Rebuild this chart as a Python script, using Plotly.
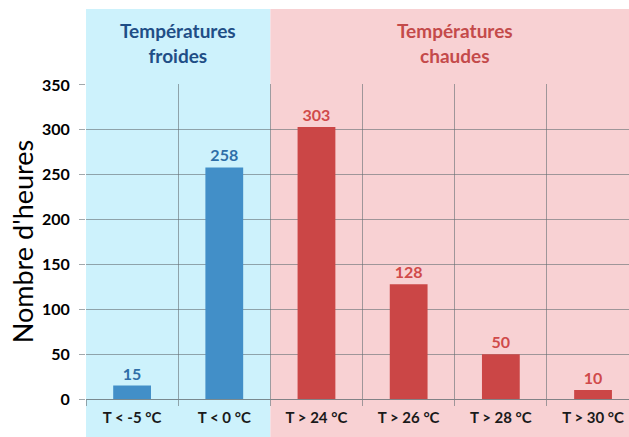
import plotly.graph_objects as go

categories = ["T < -5 °C", "T < 0 °C", "T > 24 °C", "T > 26 °C", "T > 28 °C", "T > 30 °C"]
hours = [15, 258, 303, 128, 50, 10]
groups = ["cold", "cold", "hot", "hot", "hot", "hot"]
group_titles = {"cold": "Températures<br>froides", "hot": "Températures<br>chaudes"}
y_ticks = [0, 50, 100, 150, 200, 250, 300, 350]

bar_colors = {"cold": "#428FC8", "hot": "#CB4646"}
label_colors = {"cold": "#2F6FA8", "hot": "#D04A4A"}
title_colors = {"cold": "#1F4E86", "hot": "#C44A4A"}
bg_colors = {"cold": "#CDF2FC", "hot": "#F8D1D3"}

grid = "rgba(100,110,115,0.6)"

fig = go.Figure()
fig.add_trace(go.Bar(
    x=categories, y=hours,
    marker=dict(color=[bar_colors[g] for g in groups], line=dict(width=0)),
    width=0.41,
    text=[str(v) for v in hours], textposition="outside",
    textfont=dict(family="Lato", size=16, color=[label_colors[g] for g in groups], weight="bold"),
    cliponaxis=False,
))

# background bands
for g in ["cold", "hot"]:
    idx = [i for i, gg in enumerate(groups) if gg == g]
    x0 = min(idx) - 0.5
    x1 = max(idx) + 0.5
    fig.add_shape(type="rect", xref="x", yref="paper", x0=x0, x1=x1 + (0.6 if g == "hot" else 0),
                  y0=-0.121, y1=1.238, fillcolor=bg_colors[g], line=dict(width=0), layer="below")
    fig.add_annotation(xref="x", yref="paper", x=(min(idx) + max(idx)) / 2,
                       y=1.13, yanchor="middle", text="<b>" + group_titles[g] + "</b>", showarrow=False,
                       font=dict(family="Lato", size=19, color=title_colors[g]), align="center")

fig.update_layout(
    width=629, height=437,
    margin=dict(l=86, r=0, t=84, b=38, autoexpand=False),
    paper_bgcolor="white", plot_bgcolor="rgba(0,0,0,0)",
    showlegend=False,
    bargap=0.59,
    xaxis=dict(
        type="category", range=[-0.5, 5.39], tickson="boundaries", automargin=False,
        showgrid=True, gridcolor=grid, gridwidth=1,
        ticks="outside", ticklen=6, tickcolor=grid, ticklabelstandoff=8,
        tickfont=dict(family="Lato", size=15, color="#1a1a1a", weight="bold"),
        showline=False, zeroline=False,
    ),
    yaxis=dict(
        range=[0, 351], tickvals=y_ticks, showgrid=True, automargin=False,
        gridcolor=grid, gridwidth=1,
        ticks="outside", ticklen=6, tickcolor=grid, ticklabelstandoff=6,
        tickfont=dict(family="Lato", size=16, color="black", weight="bold"),
        zeroline=True, zerolinecolor="rgba(100,110,115,0.8)", zerolinewidth=1,
        title=dict(text="Nombre d'heures", font=dict(family="Lato", size=27, color="black"), standoff=0),
    ),
)

fig.write_html("out.html", config={"displayModeBar": False},
               post_script="document.body.style.margin='0px';")
